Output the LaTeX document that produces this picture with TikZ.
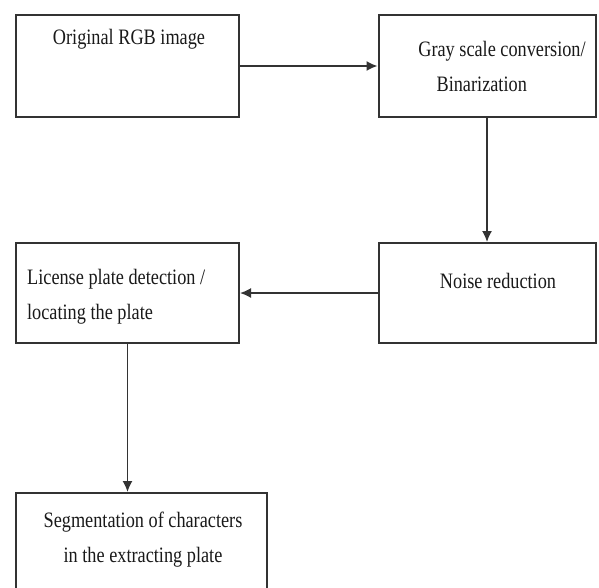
\documentclass[tikz,border=0pt]{standalone}
\usepackage{fontspec}
\setmainfont{Liberation Serif}
\usetikzlibrary{calc, arrows.meta}

\begin{document}
\begin{tikzpicture}[x=1pt, y=-1pt, >={Latex[length=11pt, width=10pt]},
    box/.style={draw=black!80, line width=2pt, inner sep=0pt},
    txt/.style={font=\fontsize{22}{35}\selectfont, text=black!90, inner sep=0pt, xscale=0.83},
    flow/.style={->, draw=black!80, line width=1.6pt}]
  \useasboundingbox (0, 0) rectangle (599, 587);
  \clip (0, 0) rectangle (599, 587);
  % boxes
  \node[box, anchor=north west, minimum width=223pt, minimum height=102pt] (rgb) at (15, 14) {};
  \node[box, anchor=north west, minimum width=217pt, minimum height=102pt] (gray) at (377.5, 14) {};
  \node[box, anchor=north west, minimum width=217pt, minimum height=100pt] (noise) at (377.5, 242) {};
  \node[box, anchor=north west, minimum width=223pt, minimum height=100pt] (plate) at (15, 242) {};
  \node[box, anchor=north west, minimum width=251pt, minimum height=120pt] (seg) at (15, 492) {};
  % texts
  \node[txt] (rgbtext) at (129, 39) {Original RGB image};
  \node[txt, align=left] (graytext) at (502, 66) {Gray scale conversion/\\\hspace*{1em}Binarization};
  \node[txt] (noisetext) at (498, 281) {Noise reduction};
  \node[txt, align=left, anchor=west] (platetext) at (27, 297) {License plate detection /\\locating the plate};
  \node[txt, align=center] (segtext) at (143, 540) {Segmentation of characters\\in the extracting plate};
  % arrows
  \draw[flow] (rgb) -- (gray);
  \draw[flow] (gray) -- (noise);
  \draw[flow] (noise) -- (plate);
  \draw[flow] (plate) -- (plate.south |- seg.north);
\end{tikzpicture}
\end{document}
